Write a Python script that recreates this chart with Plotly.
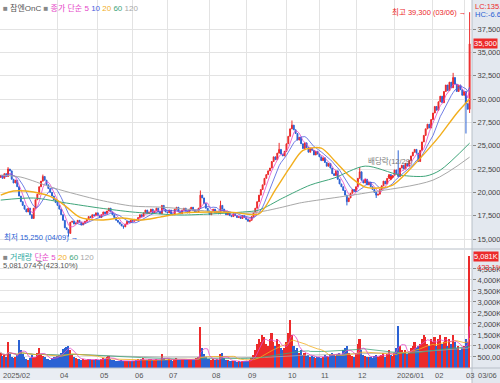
import pandas as pd
import numpy as np
import plotly.graph_objects as go
from plotly.subplots import make_subplots

# ---------------- DATA ----------------
HOLIDAYS = ["2025-03-03", "2025-05-01", "2025-05-05", "2025-05-06", "2025-06-03", "2025-06-06",
            "2025-08-15", "2025-10-03", "2025-10-06", "2025-10-07", "2025-10-08", "2025-10-09",
            "2025-12-25", "2025-12-31", "2026-01-01", "2026-02-16", "2026-02-17", "2026-02-18",
            "2026-03-02"]
START_DATE = "2025-02-14"
END_DATE = "2026-03-06"

CLOSE_FEB25 = [21800, 21500, 22000, 21700, 22500, 22300, 21400, 21000, 21300, 20600, 19600]
CLOSE_MAR25 = [19000, 18600, 18200, 17900, 18300, 17600, 17200, 18300, 19200, 19800, 20600, 21200,
               21700, 21300, 20800, 20400, 20000, 19600, 19200, 18900]
CLOSE_APR25 = [18600, 18200, 17600, 17000, 16200, 16000, 15600, 16800, 16900, 16600, 16700, 17000,
               16800, 16500, 16700, 16900, 17100, 17400, 17300, 17600, 17500, 17800]
CLOSE_MAY25 = [17500, 17300, 17600, 17900, 17700, 18000, 18300, 17900, 17600, 17300, 17000, 16800,
               16600, 16400, 16300, 16600, 16900, 16800, 17000]
CLOSE_JUN25 = [16900, 17100, 17000, 17300, 17600, 17400, 17800, 18100, 17700, 17900, 18200, 17800,
               18000, 18300, 17900, 17700, 18600, 18200, 17900]
CLOSE_JUL25 = [17800, 18100, 17700, 17600, 18200, 18400, 17900, 17700, 18100, 18300, 18000, 17800,
               18200, 18400, 18100, 17900, 17900, 18300, 19700, 19400, 18800, 18300, 18000]
CLOSE_AUG25 = [17600, 17900, 18200, 17800, 18000, 17700, 18600, 18200, 17900, 17600, 17800, 17500,
               17400, 17700, 17500, 17300, 17400, 17200, 17500, 17300]
CLOSE_SEP25 = [17100, 16900, 17000, 17400, 17800, 18300, 19000, 19700, 20300, 20800, 21500, 21900,
               22300, 22600, 23300, 23800, 23500, 24200, 24600, 24100, 23900, 24400]
CLOSE_OCT25 = [25200, 26000, 26800, 27200, 26700, 26300, 25600, 25900, 25200, 24700, 25300, 24800,
               24300, 24700, 24500, 24000, 24400, 24100]
CLOSE_NOV25 = [23800, 23400, 23700, 23200, 22800, 23100, 22600, 22000, 21800, 22300, 21400, 20900,
               20600, 20200, 19700, 19000, 19400, 19900, 20300, 20100]
CLOSE_DEC25 = [20600, 21500, 22200, 21300, 21000, 21400, 20800, 21100, 20600, 20300, 20000, 19700,
               19800, 20300, 20700, 21200, 20900, 21500, 21900, 21600, 21800]
CLOSE_JAN26 = [22400, 22000, 21700, 22600, 22900, 22500, 23100, 22800, 23400, 23900, 24300, 24600,
               24200, 23300, 24500, 25400, 26100, 26800, 27300, 26900, 27800]
CLOSE_FEB26 = [28500, 29200, 28800, 29700, 30300, 29600, 30800, 31500, 30900, 31800, 31200, 32300,
               31600, 30800, 31500, 31000, 30400]
CLOSE_MAR26 = [30800, 29500, 28900, 35900]
FIRST_OPEN = 21600

HIGH_IDX = [4, 23, 109, 120, 152, 159, 196, 217, 247, 256]
HIGH_VAL = [22700, 21900, 20200, 19100, 25300, 27700, 22700, 24500, 32800, 39300]
LOW_IDX = [37, 67, 136, 189, 205, 254, 256]
LOW_VAL = [15250, 16100, 16800, 18600, 19400, 26300, 28500]

VOL_K_FEB25 = [700, 550, 600, 480, 1170, 620, 500, 450, 520, 600, 1260]
VOL_K_MAR25 = [800, 650, 500, 420, 380, 450, 600, 520, 480, 700, 900, 650, 550, 480, 400, 420, 380,
               450, 500, 480]
VOL_K_APR25 = [550, 600, 700, 850, 900, 950, 1000, 800, 600, 500, 450, 420, 400, 380, 400, 350, 380,
               420, 400, 360, 380, 400]
VOL_K_MAY25 = [380, 350, 420, 450, 400, 500, 550, 420, 380, 350, 320, 300, 330, 350, 300, 320, 340,
               300, 320]
VOL_K_JUN25 = [300, 320, 350, 400, 380, 420, 450, 380, 350, 400, 420, 380, 350, 400, 380, 350, 650,
               450, 380]
VOL_K_JUL25 = [350, 400, 380, 330, 420, 450, 380, 350, 400, 420, 380, 350, 400, 420, 380, 350, 450,
               500, 1850, 900, 650, 500, 420]
VOL_K_AUG25 = [400, 380, 420, 350, 400, 380, 630, 680, 450, 380, 350, 330, 300, 320, 300, 280, 300,
               280, 320, 300]
VOL_K_SEP25 = [300, 320, 350, 450, 600, 800, 1100, 1300, 1200, 1500, 1400, 1100, 1000, 1300, 1600,
               1200, 1000, 1300, 1100, 900, 800, 900]
VOL_K_OCT25 = [1200, 1600, 2200, 1500, 1000, 800, 900, 700, 800, 600, 700, 550, 600, 500, 550, 500,
               450, 500]
VOL_K_NOV25 = [500, 450, 480, 600, 550, 500, 650, 700, 600, 550, 650, 700, 600, 800, 900, 1000, 700,
               600, 550, 500]
VOL_K_DEC25 = [700, 1100, 1300, 800, 600, 550, 500, 480, 500, 450, 550, 600, 500, 550, 600, 700, 500,
               650, 800, 600, 550]
VOL_K_JAN26 = [700, 900, 1900, 1000, 800, 700, 800, 650, 700, 900, 1000, 1200, 900, 1000, 1100, 1300,
               1500, 1400, 1100, 1000, 1300]
VOL_K_FEB26 = [1200, 1400, 1000, 1300, 1500, 1100, 1200, 1400, 1000, 1300, 1100, 1500, 1200, 900,
               1000, 800, 900]
VOL_K_MAR26 = [1000, 1300, 1201, 5081.074]

MA20_IDX = [0, 7, 18, 29, 36, 43, 55, 66, 76, 87, 100, 115, 127, 141, 150, 158, 165, 175, 182, 191,
            199, 206, 214, 223, 233, 240, 249, 256]
MA20_VAL = [19700, 20140, 20030, 19390, 18420, 17350, 17030, 17250, 17030, 17350, 17800, 17900,
            17850, 17700, 20300, 22700, 24500, 24740, 23450, 21630, 20560, 20460, 20780, 22380,
            24520, 26130, 28480, 30000]
MA60_IDX = [0, 18, 36, 54, 72, 87, 99, 132, 141, 154, 169, 182, 199, 218, 232, 240, 256]
MA60_VAL = [19170, 19390, 18850, 18320, 17890, 17680, 17570, 17890, 18100, 19390, 20780, 21530,
            22810, 21850, 21740, 22380, 25270]
MA120_IDX = [0, 11, 29, 54, 72, 87, 136, 154, 163, 199, 236, 256]
MA120_VAL = [21850, 21630, 20460, 19170, 18530, 18420, 17780, 18420, 18850, 19920, 21310, 23770]

PRICE_TICKS = [15000, 17500, 20000, 22500, 25000, 27500, 30000, 32500, 35000, 37500]
VOL_TICKS = [500000, 1000000, 1500000, 2000000, 2500000, 3000000, 3500000, 4000000, 4500000]
VOL_TICK_TEXT = ["500,000", "1,000K", "1,500K", "2,000K", "2,500K", "3,000K", "3,500K", "4,000K", "4,500K"]

STOCK_NAME = "참엔OnC"
LAST_PRICE_LABEL = "35,900"
LAST_VOL_LABEL = "5,081K"
LAST_VOL_TEXT = "5,081,074주(423.10%)"
HIGH_TEXT = "최고 39,300 (03/06) →"
LOW_TEXT = "최저 15,250 (04/09) →"
EXDIV_TEXT = "배당락(12/29)"
EXDIV_IDX = 213
EXDIV_PRICE = 21600

# ---------------- BUILD ----------------
RED = "#ec2a2a"
BLUE = "#2b62d4"
C5 = "#e548c8"
C10 = "#4b5de0"
C20 = "#f2ae1c"
C60 = "#3fa57a"
C120 = "#a8a8a8"
FONT = "Liberation Sans, Noto Sans CJK KR, sans-serif"
FS = 7.5

days = pd.bdate_range(START_DATE, END_DATE)
days = days[~days.isin(pd.to_datetime(HOLIDAYS))]

close = (CLOSE_FEB25 + CLOSE_MAR25 + CLOSE_APR25 + CLOSE_MAY25 + CLOSE_JUN25 + CLOSE_JUL25 +
         CLOSE_AUG25 + CLOSE_SEP25 + CLOSE_OCT25 + CLOSE_NOV25 + CLOSE_DEC25 + CLOSE_JAN26 +
         CLOSE_FEB26 + CLOSE_MAR26)
vol_k = (VOL_K_FEB25 + VOL_K_MAR25 + VOL_K_APR25 + VOL_K_MAY25 + VOL_K_JUN25 + VOL_K_JUL25 +
         VOL_K_AUG25 + VOL_K_SEP25 + VOL_K_OCT25 + VOL_K_NOV25 + VOL_K_DEC25 + VOL_K_JAN26 +
         VOL_K_FEB26 + VOL_K_MAR26)
n = len(close)
idx = list(range(n))
opn = [FIRST_OPEN] + close[:-1]
high = [max(o, c) for o, c in zip(opn, close)]
low = [min(o, c) for o, c in zip(opn, close)]
for i, v in zip(HIGH_IDX, HIGH_VAL):
    high[i] = max(high[i], v)
for i, v in zip(LOW_IDX, LOW_VAL):
    low[i] = min(low[i], v)
vol = [v * 1000 for v in vol_k]
vcol = [RED if c >= o else BLUE for o, c in zip(opn, close)]

cs = pd.Series(close, dtype=float)
ma5 = cs.rolling(5, min_periods=1).mean()
ma10 = cs.rolling(10, min_periods=1).mean()
vs = pd.Series(vol, dtype=float)

fig = make_subplots(rows=2, cols=1, shared_xaxes=True, vertical_spacing=0.0)

fig.add_trace(go.Candlestick(x=idx, open=opn, high=high, low=low, close=close,
                             increasing=dict(line=dict(color=RED, width=1), fillcolor=RED),
                             decreasing=dict(line=dict(color=BLUE, width=1), fillcolor=BLUE),
                             whiskerwidth=0, hoverinfo="skip", showlegend=False), row=1, col=1)
fig.add_trace(go.Scatter(x=idx, y=ma5, mode="lines", line=dict(color=C5, width=0.8),
                         hoverinfo="skip", showlegend=False), row=1, col=1)
fig.add_trace(go.Scatter(x=idx, y=ma10, mode="lines", line=dict(color=C10, width=0.8),
                         hoverinfo="skip", showlegend=False), row=1, col=1)
fig.add_trace(go.Scatter(x=MA120_IDX, y=MA120_VAL, mode="lines",
                         line=dict(color=C120, width=1, shape="spline", smoothing=0.8),
                         hoverinfo="skip", showlegend=False), row=1, col=1)
fig.add_trace(go.Scatter(x=MA60_IDX, y=MA60_VAL, mode="lines",
                         line=dict(color=C60, width=1, shape="spline", smoothing=0.8),
                         hoverinfo="skip", showlegend=False), row=1, col=1)
fig.add_trace(go.Scatter(x=MA20_IDX, y=MA20_VAL, mode="lines",
                         line=dict(color=C20, width=1.4, shape="spline", smoothing=0.8),
                         hoverinfo="skip", showlegend=False), row=1, col=1)
fig.add_trace(go.Scatter(x=[EXDIV_IDX], y=[EXDIV_PRICE], mode="markers",
                         marker=dict(symbol="triangle-down", color=RED, size=6),
                         hoverinfo="skip", showlegend=False), row=1, col=1)

fig.add_trace(go.Bar(x=idx, y=vol, marker=dict(color=vcol, line=dict(width=0)), width=0.9,
                     hoverinfo="skip", showlegend=False), row=2, col=1)
for w, col in [(120, C120), (60, C60), (20, C20), (5, C5)]:
    fig.add_trace(go.Scatter(x=idx, y=vs.rolling(w, min_periods=1).mean(), mode="lines",
                             line=dict(color=col, width=0.8), hoverinfo="skip", showlegend=False),
                  row=2, col=1)

# month ticks
mstart = [i for i in range(n) if i == 0 or days[i].month != days[i - 1].month]
mstart = [i for i in mstart if not (days[i].year == 2025 and days[i].month == 3)]
mlabels = []
for i in mstart:
    d = days[i]
    if i == 0 or d.month == 1:
        mlabels.append(f"{d.year}/{d.month:02d}")
    else:
        mlabels.append(f"{d.month:02d}")

PW = 472.0
PH = 368.0
xr = [-0.4, n - 1 + 1.3]
grid = "#e3e3e3"
for ax in ["xaxis", "xaxis2"]:
    fig.layout[ax].update(range=xr, tickvals=mstart, showticklabels=False, showgrid=True,
                          gridcolor=grid, gridwidth=1, zeroline=False, ticks="",
                          rangeslider=dict(visible=False), showline=False)
fig.update_layout(
    yaxis=dict(domain=[1 - 248 / PH, 1], range=[14036, 40607], side="right", tickvals=PRICE_TICKS,
               tickformat=",d", ticks="outside", ticklen=3, tickcolor="#888",
               tickfont=dict(size=FS, color="#444", family=FONT), showgrid=True, gridcolor=grid,
               zeroline=False, automargin=False, showline=False),
    yaxis2=dict(domain=[0, 118 / PH], range=[0, 5360000], side="right", tickvals=VOL_TICKS,
                ticktext=VOL_TICK_TEXT, ticks="outside", ticklen=3, tickcolor="#888",
                tickfont=dict(size=FS, color="#444", family=FONT), showgrid=True, gridcolor=grid,
                zeroline=False, automargin=False, showline=False),
    width=500, height=383, margin=dict(l=0, r=28, t=0, b=15),
    paper_bgcolor="white", plot_bgcolor="white", bargap=0, showlegend=False,
    font=dict(family=FONT, size=FS, color="#444"),
)

shapes = []
shapes.append(dict(type="rect", xref="paper", yref="paper", x0=1, x1=1 + 28 / PW, y0=-15 / PH, y1=1,
                   fillcolor="#e3e8ef", line=dict(width=0), layer="below"))
shapes.append(dict(type="rect", xref="paper", yref="paper", x0=0, x1=1, y0=-12 / PH, y1=0,
                   fillcolor="#e9edf3", line=dict(width=0), layer="below"))
shapes.append(dict(type="line", xref="paper", yref="paper", x0=0, x1=1 + 28 / PW,
                   y0=1 - 249 / PH, y1=1 - 249 / PH, line=dict(color="#b8bfc8", width=1)))
shapes.append(dict(type="line", xref="paper", yref="paper", x0=0, x1=1 + 28 / PW,
                   y0=0, y1=0, line=dict(color="#b8bfc8", width=1)))
shapes.append(dict(type="line", xref="paper", yref="paper", x0=1, x1=1, y0=-15 / PH, y1=1,
                   line=dict(color="#b8bfc8", width=1)))
fig.update_layout(shapes=shapes)

ann = []
legend_top = ('<span style="color:#888">■</span> <span style="color:#555">' + STOCK_NAME +
              '</span> <span style="color:#888">■</span> <span style="color:' + C5 + '">종가 단순 5</span> '
              '<span style="color:' + C10 + '">10</span> <span style="color:' + C20 + '">20</span> '
              '<span style="color:' + C60 + '">60</span> <span style="color:' + C120 + '">120</span>')
ann.append(dict(xref="paper", yref="paper", x=0.002, y=1, xanchor="left", yanchor="top", yshift=-1,
                text=legend_top, showarrow=False, font=dict(size=8, family=FONT)))
legend_vol = ('<span style="color:#888">■</span> <span style="color:#2aa7a0">거래량</span> '
              '<span style="color:' + C5 + '">단순 5</span> <span style="color:' + C20 + '">20</span> '
              '<span style="color:' + C60 + '">60</span> <span style="color:' + C120 + '">120</span>')
ann.append(dict(xref="paper", yref="paper", x=0.002, y=1 - 250 / PH, xanchor="left", yanchor="top",
                text=legend_vol, showarrow=False, font=dict(size=8, family=FONT)))
ann.append(dict(xref="paper", yref="paper", x=0.002, y=1 - 259 / PH, xanchor="left", yanchor="top",
                text=LAST_VOL_TEXT, showarrow=False, font=dict(size=FS, family=FONT, color="#555")))
ann.append(dict(xref="paper", yref="paper", x=1, y=1, xanchor="left", yanchor="top", xshift=1,
                text="LC:135.4", showarrow=False, font=dict(size=FS, family=FONT, color=RED)))
ann.append(dict(xref="paper", yref="paper", x=1, y=1 - 8 / PH, xanchor="left", yanchor="top", xshift=1,
                text="HC:-6.65", showarrow=False, font=dict(size=FS, family=FONT, color=BLUE)))
ann.append(dict(xref="x", yref="y", x=n - 1, y=HIGH_VAL[-1], xanchor="right", yanchor="middle",
                xshift=-2, text=HIGH_TEXT, showarrow=False, font=dict(size=FS, family=FONT, color=RED)))
ann.append(dict(xref="paper", yref="y", x=0.004, y=LOW_VAL[0], xanchor="left", yanchor="middle",
                text=LOW_TEXT, showarrow=False, font=dict(size=FS, family=FONT, color=BLUE)))
ann.append(dict(xref="x", yref="y", x=EXDIV_IDX, y=EXDIV_PRICE, xanchor="center", yanchor="bottom",
                yshift=9, text=EXDIV_TEXT, showarrow=False, font=dict(size=FS, family=FONT, color="#777")))
ann.append(dict(xref="paper", yref="y", x=1, y=close[-1], xanchor="left", yanchor="middle", xshift=1,
                text=LAST_PRICE_LABEL, showarrow=False, bgcolor=RED, borderpad=0,
                font=dict(size=FS, family=FONT, color="white")))
ann.append(dict(xref="paper", yref="y2", x=1, y=vol[-1], xanchor="left", yanchor="middle", xshift=1,
                text=LAST_VOL_LABEL, showarrow=False, bgcolor=RED, borderpad=0,
                font=dict(size=FS, family=FONT, color="white")))
ann.append(dict(xref="paper", yref="y2", x=1, y=vol[-1], xanchor="left", yanchor="top", xshift=3,
                yshift=-5, text="423.1%", showarrow=False, font=dict(size=FS, family=FONT, color=RED)))
for i, lab in zip(mstart, mlabels):
    ann.append(dict(xref="x2", yref="paper", x=i, y=0, xanchor="left", yanchor="top", xshift=0,
                    yshift=-1, text=lab, showarrow=False, font=dict(size=FS, family=FONT, color="#555")))
ann.append(dict(xref="paper", yref="paper", x=1, y=0, xanchor="left", yanchor="top", xshift=4,
                yshift=-1, text=days[-1].strftime("%m/%d"), showarrow=False,
                font=dict(size=FS, family=FONT, color="#555")))
fig.update_layout(annotations=ann)

fig.write_html("out.html", config={"displayModeBar": False},
               post_script="document.body.style.margin='0px';document.body.style.overflow='hidden';")
